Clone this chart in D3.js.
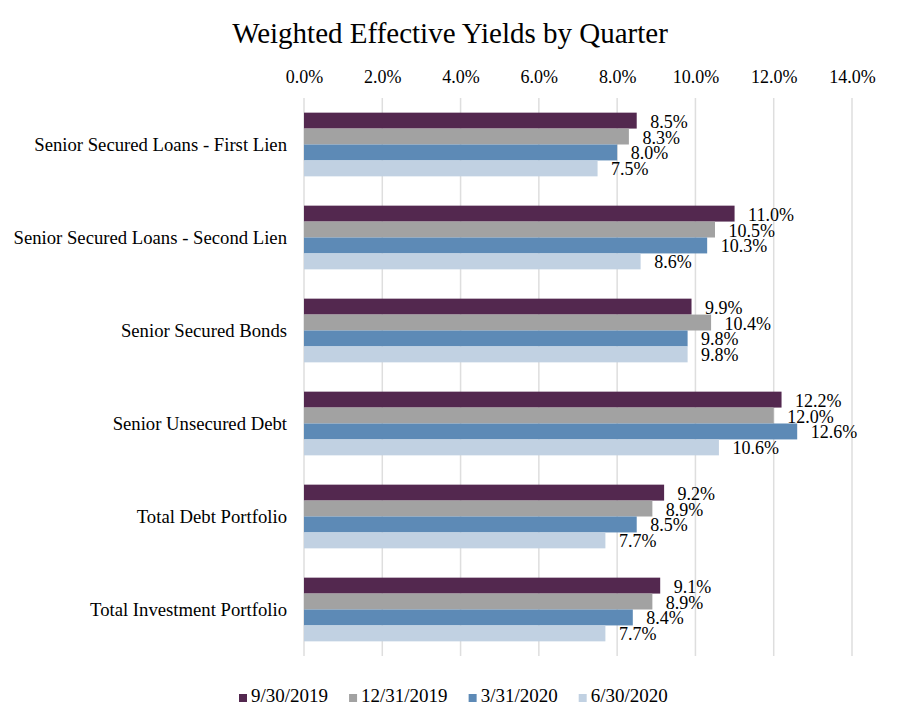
<!DOCTYPE html>
<html>
<head>
<meta charset="utf-8">
<script src="https://cdn.jsdelivr.net/npm/d3@7"></script>
<style>
  html, body { margin: 0; padding: 0; background: #fff; }
  svg { display: block; }
  text { font-family: "Liberation Serif", "Times New Roman", serif; fill: #000; }
</style>
</head>
<body>
<svg id="chart" width="900" height="725"></svg>
<script>
const title = "Weighted Effective Yields by Quarter";
const categories = [
  "Senior Secured Loans - First Lien",
  "Senior Secured Loans - Second Lien",
  "Senior Secured Bonds",
  "Senior Unsecured Debt",
  "Total Debt Portfolio",
  "Total Investment Portfolio"
];
const seriesNames = ["9/30/2019", "12/31/2019", "3/31/2020", "6/30/2020"];
const seriesColors = ["#53284f", "#a2a2a2", "#5d8ab6", "#c1d1e2"];
const q3_2019 = [8.5, 11.0, 9.9, 12.2, 9.2, 9.1];
const q4_2019 = [8.3, 10.5, 10.4, 12.0, 8.9, 8.9];
const q1_2020 = [8.0, 10.3, 9.8, 12.6, 8.5, 8.4];
const q2_2020 = [7.5, 8.6, 9.8, 10.6, 7.7, 7.7];
const seriesValues = [q3_2019, q4_2019, q1_2020, q2_2020];
const xTicks = [0, 2, 4, 6, 8, 10, 12, 14];

const svg = d3.select("#chart");
const plot = { left: 304, right: 852, top: 98, bottom: 656 };

const x = d3.scaleLinear().domain([0, 14]).range([plot.left, plot.right]);
const y = d3.scaleBand().domain(categories).range([plot.top, plot.bottom]).paddingInner(0.315).paddingOuter(0.1575);
const ySub = d3.scaleBand().domain(seriesNames).range([0, y.bandwidth()]);

// title
svg.append("text")
  .attr("x", 450).attr("y", 43)
  .attr("text-anchor", "middle")
  .style("font-size", "29px")
  .text(title);

// gridlines
svg.append("g").selectAll("line").data(xTicks).join("line")
  .attr("x1", d => x(d)).attr("x2", d => x(d))
  .attr("y1", plot.top).attr("y2", plot.bottom)
  .attr("stroke", "#dedede").attr("stroke-width", 1.5);

// top axis labels
const xAxis = d3.axisTop(x).tickValues(xTicks).tickSize(0).tickPadding(0)
  .tickFormat(d => d.toFixed(1) + "%");
const gx = svg.append("g").attr("transform", "translate(0,83)").call(xAxis);
gx.select(".domain").remove();
gx.selectAll("text").attr("dy", 0).attr("y", 0)
  .style("font-size", "18px")
  .style("font-family", '"Liberation Serif", "Times New Roman", serif')
  .attr("fill", "#000");

// bars
const groups = svg.append("g").selectAll("g").data(categories).join("g")
  .attr("transform", c => `translate(0,${y(c)})`);

groups.each(function(c, ci) {
  const g = d3.select(this);
  seriesNames.forEach((s, si) => {
    const v = seriesValues[si][ci];
    g.append("rect")
      .attr("x", x(0))
      .attr("y", ySub(s))
      .attr("width", x(v) - x(0))
      .attr("height", ySub.bandwidth())
      .attr("fill", seriesColors[si]);
    g.append("text")
      .attr("x", x(v) + 13.5)
      .attr("y", ySub(s) + ySub.bandwidth() / 2 + 7)
      .style("font-size", "18px")
      .text(v.toFixed(1) + "%");
  });
});

// category labels
const yAxis = d3.axisLeft(y).tickSize(0).tickPadding(0);
const gy = svg.append("g").attr("transform", "translate(287,0)").call(yAxis);
gy.select(".domain").remove();
gy.selectAll("text").attr("dy", 0).attr("x", 0)
  .attr("transform", "translate(0,6.5)")
  .style("font-size", "18.7px")
  .style("font-family", '"Liberation Serif", "Times New Roman", serif')
  .attr("fill", "#000");

// legend
const legend = svg.append("g");
let lx = 239;
seriesNames.forEach((s, i) => {
  legend.append("rect")
    .attr("x", lx).attr("y", 694)
    .attr("width", 8).attr("height", 8)
    .attr("fill", seriesColors[i]);
  const t = legend.append("text")
    .attr("x", lx + 12).attr("y", 702)
    .style("font-size", "19px")
    .text(s);
  lx += 12 + t.node().getComputedTextLength() + 21;
});
</script>
</body>
</html>
